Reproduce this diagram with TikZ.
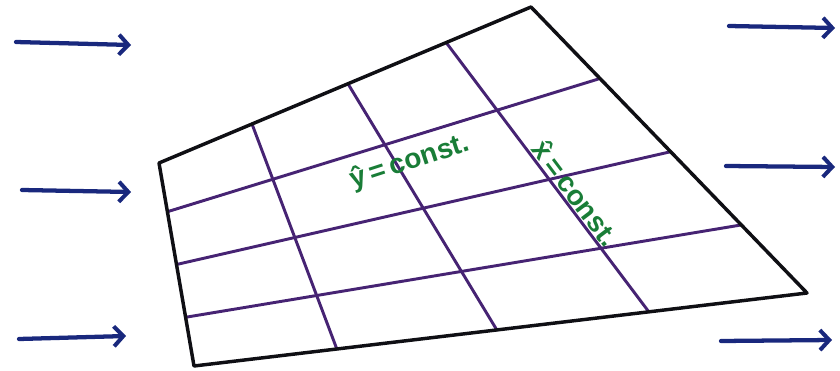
\documentclass[tikz,border=0pt]{standalone}
\usepackage{fontspec}
\setsansfont{Liberation Sans}
\usetikzlibrary{calc,arrows.meta}
\definecolor{frameblk}{RGB}{15,15,20}
\definecolor{gridpur}{RGB}{70,35,115}
\definecolor{flownavy}{RGB}{25,40,125}
\definecolor{labgreen}{RGB}{25,125,55}
\tikzset{
  frame/.style={draw=frameblk,line width=2.6pt,line join=round},
  gridline/.style={draw=gridpur,line width=2.2pt,line cap=round},
  flow/.style={draw=flownavy,line width=3.2pt,line cap=round,-{Straight Barb[length=7pt,width=15pt,line width=3pt]}},
  lab/.style={text=labgreen,font=\sffamily\bfseries\fontsize{21}{23}\selectfont,inner sep=0pt}
}
\begin{document}
\begin{tikzpicture}[x=0.75pt,y=-0.75pt]
\useasboundingbox (0,0) rectangle (840,371);
% corners
\coordinate (TL) at (159,163);
\coordinate (TR) at (531,7);
\coordinate (BR) at (807,293);
\coordinate (BL) at (194,366);
% grid lines (x = const, across top to bottom)
\draw[gridline] ($(TL)!0.25!(TR)$) -- ($(BL)!0.233!(BR)$);
\draw[gridline] ($(TL)!0.508!(TR)$) -- ($(BL)!0.494!(BR)$);
\draw[gridline] ($(TL)!0.772!(TR)$) -- ($(BL)!0.742!(BR)$);
% grid lines (y = const, left to right)
\draw[gridline] ($(TL)!0.24!(BL)$) -- ($(TR)!0.25!(BR)$);
\draw[gridline] ($(TL)!0.50!(BL)$) -- ($(TR)!0.506!(BR)$);
\draw[gridline] ($(TL)!0.76!(BL)$) -- ($(TR)!0.762!(BR)$);
% frame
\draw[frame] (TL) -- (TR) -- (BR) -- (BL) -- cycle;
% labels
\node[lab,rotate=18] (ylab) at (410,162) {ŷ\,=\,const.};
\node[lab,rotate=-53] (xlab) at (576,193) {\^{x}\,=\,const.};
% flow arrows left
\coordinate (la1) at (16,42);  \coordinate (lb1) at (131,45);
\coordinate (la2) at (22,190); \coordinate (lb2) at (131,192);
\coordinate (la3) at (19,339); \coordinate (lb3) at (126,336);
\draw[flow] (la1) -- (lb1);
\draw[flow] (la2) -- (lb2);
\draw[flow] (la3) -- (lb3);
% flow arrows right
\coordinate (ra1) at (729,26);  \coordinate (rb1) at (835,28);
\coordinate (ra2) at (726,166); \coordinate (rb2) at (835,167);
\coordinate (ra3) at (721,341); \coordinate (rb3) at (832,340);
\draw[flow] (ra1) -- (rb1);
\draw[flow] (ra2) -- (rb2);
\draw[flow] (ra3) -- (rb3);
\end{tikzpicture}
\end{document}
